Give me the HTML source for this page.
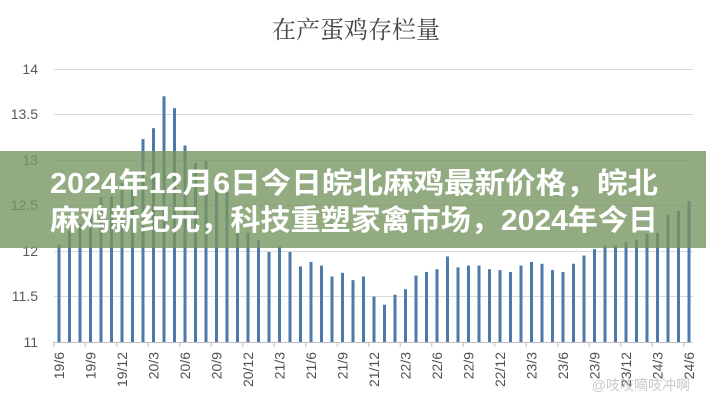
<!DOCTYPE html>
<html><head><meta charset="utf-8"><style>
html,body{margin:0;padding:0;background:#fff;}
svg{display:block;}
</style></head><body>
<svg width="706" height="400" viewBox="0 0 706 400" xmlns="http://www.w3.org/2000/svg">
<rect width="706" height="400" fill="#fff"/>
<text x="356" y="38" text-anchor="middle" font-family="'Noto Serif CJK SC','Liberation Serif',serif" font-size="24" fill="#444">在产蛋鸡存栏量</text>
<g stroke="#d9d9d9" stroke-width="1">
<line x1="54" x2="693" y1="69.5" y2="69.5"/>
<line x1="54" x2="693" y1="114.5" y2="114.5"/>
<line x1="54" x2="693" y1="160.5" y2="160.5"/>
<line x1="54" x2="693" y1="205.5" y2="205.5"/>
<line x1="54" x2="693" y1="251.5" y2="251.5"/>
<line x1="54" x2="693" y1="296.5" y2="296.5"/>
</g>
<g font-family="'Liberation Sans',sans-serif" font-size="14" fill="#595959" text-anchor="end">
<text x="38" y="74">14</text>
<text x="38" y="119">13.5</text>
<text x="38" y="165">13</text>
<text x="38" y="210">12.5</text>
<text x="38" y="256">12</text>
<text x="38" y="301">11.5</text>
<text x="38" y="347">11</text>
</g>
<g id="bars" fill="#4e7aab"></g>
<line x1="54" x2="693" y1="342.5" y2="342.5" stroke="#bfbfbf"/>
<g id="ticks" stroke="#bfbfbf"></g>
<g id="xl" font-family="'Liberation Sans',sans-serif" font-size="14" fill="#505050"></g>
<rect x="0" y="151" width="706" height="97" fill="rgb(120,150,98)" fill-opacity="0.8"/>
<text font-family="'Liberation Sans','Noto Sans CJK SC',sans-serif" font-weight="bold" font-size="29" fill="#fff">
<tspan x="50" y="193" textLength="608" lengthAdjust="spacingAndGlyphs">2024年12月6日今日皖北麻鸡最新价格，皖北</tspan>
<tspan x="50" y="230" textLength="608" lengthAdjust="spacingAndGlyphs">麻鸡新纪元，科技重塑家禽市场，2024年今日</tspan>
</text>
<text x="690" y="390" text-anchor="end" font-family="'Liberation Sans','Noto Sans CJK SC',sans-serif" font-size="14" fill="#bbb" fill-opacity="0.8">@吱吱嘀吱冲啊</text>
<script>
var v=[12.07,12.22,12.3,12.4,12.59,12.6,12.75,12.7,13.23,13.35,13.7,13.57,13.16,12.97,12.99,12.72,12.65,12.4,12.2,12.12,11.99,12.05,11.99,11.83,11.88,11.84,11.72,11.76,11.68,11.72,11.5,11.41,11.52,11.58,11.73,11.77,11.8,11.94,11.82,11.84,11.84,11.8,11.79,11.77,11.84,11.88,11.86,11.79,11.77,11.86,11.95,12.02,12.06,12.06,12.1,12.12,12.19,12.2,12.4,12.44,12.55];
var s=10.5,ns="http://www.w3.org/2000/svg",b=document.getElementById('bars');
v.forEach(function(d,i){var x=59+s*i,y=342-(d-11)*91;var r=document.createElementNS(ns,'rect');r.setAttribute('x',x-1.5);r.setAttribute('y',y);r.setAttribute('width',3);r.setAttribute('height',342-y);b.appendChild(r);});
var t=document.getElementById('ticks'),xl=document.getElementById('xl');
for(var k=0;k<=21;k++){var x=53.75+3*s*k;if(x>694)break;var l=document.createElementNS(ns,'line');l.setAttribute('x1',x);l.setAttribute('x2',x);l.setAttribute('y1',342);l.setAttribute('y2',347);t.appendChild(l);}
var labs=[];for(var k=0;k<21;k++){var m=6+3*k,yy=19+Math.floor((m-1)/12),mm=((m-1)%12)+1;labs.push(yy+'/'+mm);}
labs.forEach(function(s2,k){var x=59+31.5*k;var e=document.createElementNS(ns,'text');e.setAttribute('transform','translate('+(x+5)+',352) rotate(-90)');e.setAttribute('text-anchor','end');e.textContent=s2;xl.appendChild(e);});
</script>
</svg>
</body></html>
